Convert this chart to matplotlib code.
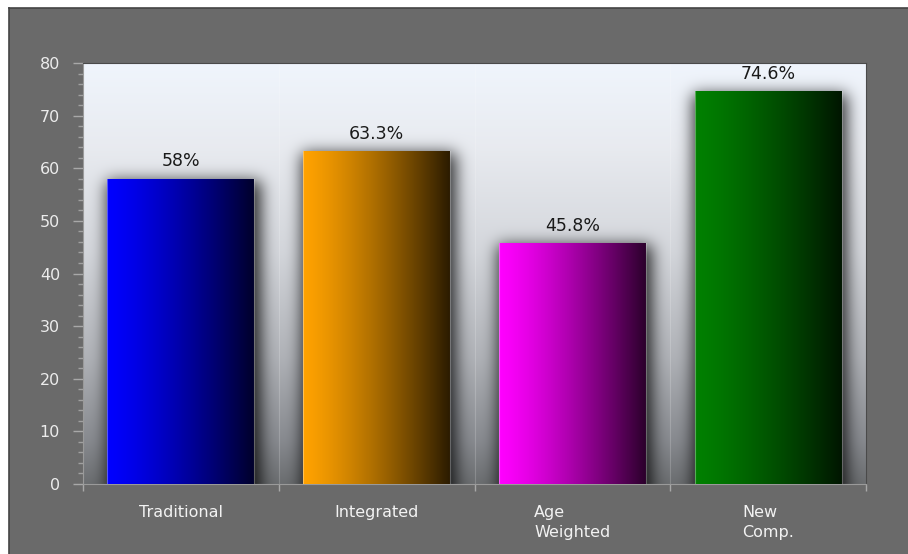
import numpy as np
import matplotlib
matplotlib.use('Agg')
import matplotlib.pyplot as plt
from matplotlib.patches import Rectangle
from matplotlib.lines import Line2D
from matplotlib.colors import to_rgb

# chart data
categories = ['Traditional', 'Integrated', 'Age\nWeighted', 'New\nComp.']
values = [58, 63.3, 45.8, 74.6]
value_labels = ['58%', '63.3%', '45.8%', '74.6%']
bar_colors = ['#0000ff', '#ffa200', '#ff00ff', '#008000']

W, H = 908, 554
fig = plt.figure(figsize=(W / 100, H / 100), dpi=100, facecolor='white')

# gray panel with a dark frame on top/left
fig.patches.append(Rectangle((9 / W, 0), 1, (H - 8) / H, transform=fig.transFigure,
                             facecolor='#6a6a6a', edgecolor='none', zorder=-10))
fig.add_artist(Line2D([9 / W, 1], [(H - 8) / H] * 2, color='#444444', lw=1.2))
fig.add_artist(Line2D([9 / W] * 2, [0, (H - 8) / H], color='#444444', lw=1.2))

ax_l, ax_r, ax_t, ax_b = 83, 866, 63, 484
ax = fig.add_axes([ax_l / W, (H - ax_b) / H, (ax_r - ax_l) / W, (ax_b - ax_t) / H])

x = np.arange(len(values))
bw = 0.75
xmin, xmax, ymin, ymax = -0.5, len(values) - 0.5, 0, 80

# background: vertical gradient darkened by soft bar shadows
nx, ny = ax_r - ax_l, ax_b - ax_t
xs = np.linspace(xmin, xmax, nx)
ys = np.linspace(ymin, ymax, ny)
X, Y = np.meshgrid(xs, ys)
px_x = nx / (xmax - xmin)
px_y = ny / (ymax - ymin)
mask = np.zeros((ny, nx))
for i, v in enumerate(values):
    sel = (X > i - bw / 2 - 1 / px_x) & (X < i + bw / 2 + 6 / px_x) & (Y < v - 2 / px_y)
    mask[sel] = 1.0

sig = 8.0
t = np.arange(-3 * sig, 3 * sig + 1)
k = np.exp(-t ** 2 / (2 * sig ** 2))
k /= k.sum()
pad = len(t) // 2
m = np.pad(mask, pad, mode='edge')
m = np.array([np.convolve(row, k, mode='same') for row in m])
m = np.array([np.convolve(col, k, mode='same') for col in m.T]).T
shadow = m[pad:-pad, pad:-pad]

stops = [0.0, 0.1, 0.3, 0.55, 0.8, 1.0]
stop_cols = np.array([[0.42, 0.43, 0.44], [0.53, 0.54, 0.56], [0.69, 0.70, 0.72],
                      [0.83, 0.84, 0.86], [0.91, 0.92, 0.94], [0.94, 0.96, 0.99]])
fy = np.linspace(0, 1, ny)
grad = np.stack([np.interp(fy, stops, stop_cols[:, c]) for c in range(3)], axis=-1)
bg = grad[:, None, :] * (1 - 0.8 * shadow[..., None])
ax.imshow(bg, extent=[xmin, xmax, ymin, ymax], origin='lower', aspect='auto',
          interpolation='bilinear', zorder=0)

# faint separators at category boundaries
for b in np.arange(xmin, xmax + 0.01, 1):
    ax.axvline(b, color='white', alpha=0.18, lw=0.8, zorder=1)

# bars with horizontal gradient fill
bars = ax.bar(x, values, width=bw, color='none', edgecolor='none', zorder=2)
fx = np.linspace(0, 1, 200)
for rect, col in zip(bars, bar_colors):
    c = np.array(to_rgb(col))
    fac = 1.0 - 0.83 * fx ** 1.3
    img = (fac[:, None] * c[None, :])[None, :, :]
    x0 = rect.get_x()
    im = ax.imshow(img, extent=[x0, x0 + rect.get_width(), 0, rect.get_height()],
                   origin='lower', aspect='auto', interpolation='bilinear', zorder=3)
    im.set_clip_path(rect)
    ax.add_line(Line2D([x0, x0], [0, rect.get_height()], color='white', alpha=0.35,
                       lw=0.8, zorder=4))
    ax.add_line(Line2D([x0 + rect.get_width()] * 2, [0, rect.get_height()], color='white',
                       alpha=0.25, lw=0.8, zorder=4))

for xi, v, lab in zip(x, values, value_labels):
    ax.annotate(lab, (xi, v), xytext=(0, 6), textcoords='offset points',
                ha='center', va='bottom', fontsize=12.5, color='#1a1a1a', zorder=5)

ax.set_xlim(xmin, xmax)
ax.set_ylim(ymin, ymax)

ax.set_yticks(np.arange(0, 81, 10))
ax.set_yticks(np.arange(0, 81, 2), minor=True)
ax.tick_params(axis='y', which='major', length=7.5, width=1, color='#a8a8a8',
               labelcolor='#ececec', labelsize=11.5, pad=9)
ax.tick_params(axis='y', which='minor', length=3.5, width=1, color='#a0a0a0')

ax.set_xticks(np.arange(xmin, xmax + 0.01, 1))
ax.set_xticklabels([])
ax.set_xticks(x, minor=True)
ax.set_xticklabels(categories, minor=True, multialignment='left', linespacing=1.4)
ax.tick_params(axis='x', which='major', length=5, width=1, color='#a8a8a8')
ax.tick_params(axis='x', which='minor', length=0, pad=15, labelcolor='#f2f2f2',
               labelsize=11.5)

for side in ['top', 'right']:
    ax.spines[side].set_color('#4a4a4a')
for side in ['left', 'bottom']:
    ax.spines[side].set_color('#9a9a9a')

fig.savefig('out.png', dpi=100, facecolor=fig.get_facecolor())
